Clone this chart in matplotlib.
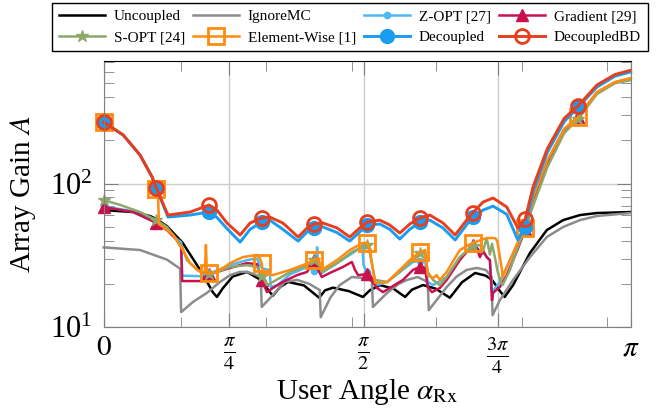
import numpy as np
import matplotlib.pyplot as plt

plt.rcParams['font.family'] = 'serif'
plt.rcParams['font.serif'] = ['Liberation Serif', 'DejaVu Serif']
plt.rcParams['mathtext.fontset'] = 'stix'

# user angle given in units of pi, array gain values
unc_x = [0, 0.056, 0.088, 0.1, 0.120, 0.150, 0.183, 0.200, 0.207, 0.215, 0.226, 0.245, 0.272, 0.296,
         0.321, 0.335, 0.350, 0.380, 0.409, 0.420, 0.435, 0.465, 0.492, 0.505, 0.524, 0.550, 0.572,
         0.585, 0.606, 0.630, 0.657, 0.680, 0.705, 0.725, 0.737, 0.752, 0.761, 0.777, 0.809, 0.841,
         0.872, 0.904, 0.936, 1.0]
unc_y = [65.3, 63.3, 59.4, 56.5, 50.5, 38.6, 25.0, 19.5, 17.5, 16.2, 18.6, 22.5, 24.2, 21.5,
         16.5, 19.0, 20.6, 19.5, 16.0, 18.0, 18.8, 17.8, 16.2, 18.0, 19.6, 18.5, 16.2,
         18.2, 19.6, 18.5, 16.0, 20.5, 23.8, 22.8, 21.3, 17.8, 16.2, 19.6, 32.8, 47.4,
         55.6, 60.3, 62.3, 63.3]

ign_x = [0, 0.069, 0.120, 0.145, 0.147, 0.170, 0.196, 0.220, 0.240, 0.258, 0.272, 0.286, 0.298,
         0.300, 0.325, 0.344, 0.367, 0.390, 0.410, 0.412, 0.430, 0.448, 0.471, 0.492, 0.509, 0.511,
         0.538, 0.560, 0.576, 0.596, 0.615, 0.617, 0.651, 0.670, 0.689, 0.708, 0.725, 0.736, 0.738,
         0.752, 0.777, 0.809, 0.841, 0.872, 0.904, 0.936, 1.0]
ign_y = [35.9, 34.4, 29.5, 25.5, 12.7, 15.0, 17.3, 20.5, 23.0, 24.2, 24.2, 23.3, 22.3,
         13.8, 17.3, 20.6, 21.3, 20.0, 18.1, 11.7, 16.0, 19.6, 22.3, 22.0, 21.0, 13.8,
         17.3, 20.0, 21.3, 22.3, 20.6, 13.1, 19.0, 22.5, 25.0, 25.8, 25.0, 22.5, 12.1,
         15.4, 21.3, 30.7, 42.4, 49.8, 55.6, 59.4, 62.3]

zopt_x = [0, 0.05, 0.1, 0.120, 0.139, 0.147, 0.149, 0.183, 0.2, 0.215, 0.240, 0.272, 0.291, 0.296,
          0.302, 0.315, 0.317, 0.330, 0.354, 0.386, 0.4, 0.404, 0.405, 0.407, 0.414, 0.443, 0.467,
          0.486, 0.491, 0.493, 0.5, 0.505, 0.519, 0.538, 0.562, 0.587, 0.6, 0.610, 0.615, 0.625,
          0.651, 0.676, 0.7, 0.720, 0.733, 0.737, 0.752, 0.771, 0.786, 0.8, 0.815, 0.842, 0.874,
          0.9, 0.936, 0.97, 1.0]
zopt_y = [69.5, 64.5, 54.0, 48.0, 41.0, 39.0, 22.8, 22.6, 23.6, 24.8, 27.0, 29.3, 30.0, 27.0,
          25.5, 25.0, 19.0, 19.6, 23.3, 26.2, 24.5, 26.0, 36.0, 26.0, 23.8, 27.9, 31.8,
          35.5, 37.0, 27.0, 24.0, 22.3, 19.6, 20.6, 24.2, 28.4, 29.0, 29.3, 20.6, 19.6,
          22.3, 30.7, 36.6, 33.0, 29.0, 17.5, 20.6, 29.3, 38.0, 47.4, 78, 145, 240,
          290, 430, 505, 540]

grad_x = [0, 0.056, 0.1, 0.120, 0.139, 0.147, 0.149, 0.183, 0.2, 0.215, 0.240, 0.272, 0.291, 0.296,
          0.3, 0.310, 0.321, 0.340, 0.367, 0.386, 0.4, 0.407, 0.414, 0.429, 0.454, 0.471, 0.477,
          0.483, 0.5, 0.505, 0.519, 0.530, 0.543, 0.568, 0.587, 0.6, 0.610, 0.615, 0.623, 0.638,
          0.651, 0.676, 0.7, 0.708, 0.714, 0.720, 0.727, 0.733, 0.737, 0.739, 0.752, 0.765, 0.786,
          0.8, 0.815, 0.842, 0.874, 0.9, 0.936, 0.97, 1.0]
grad_y = [68.6, 63.3, 53.1, 47.4, 40.4, 36.0, 20.9, 20.9, 23.4, 24.2, 25.8, 27.9, 27.4, 24.0,
          21.3, 17.5, 18.7, 20.6, 23.0, 24.2, 29.3, 25.0, 22.3, 23.8, 26.2, 28.4, 25.0,
          23.0, 23.4, 21.9, 18.7, 17.5, 18.7, 21.3, 25.0, 26.2, 25.8, 19.0, 17.5, 18.7,
          21.3, 29.3, 37.3, 35.5, 30.7, 34.0, 30.7, 29.3, 15.4, 17.3, 19.0, 23.0, 35.0,
          48.0, 78, 140, 235, 290, 430, 505, 540]

sopt_x = [0, 0.031, 0.069, 0.1, 0.120, 0.139, 0.150, 0.158, 0.177, 0.2, 0.215, 0.240, 0.272, 0.291,
          0.3, 0.310, 0.321, 0.354, 0.386, 0.4, 0.407, 0.414, 0.443, 0.471, 0.492, 0.5, 0.505,
          0.515, 0.538, 0.562, 0.587, 0.6, 0.610, 0.615, 0.625, 0.638, 0.651, 0.676, 0.7, 0.714,
          0.720, 0.727, 0.733, 0.737, 0.743, 0.747, 0.752, 0.757, 0.771, 0.786, 0.8, 0.815, 0.842,
          0.874, 0.9, 0.936, 0.97, 1.0]
sopt_y = [76.7, 71.0, 63.3, 55.6, 49.8, 40.4, 35.5, 29.3, 25.0, 23.4, 24.2, 26.2, 27.0, 26.2,
          22.8, 19.6, 20.6, 24.2, 27.0, 29.3, 28.4, 24.2, 27.9, 33.3, 36.1, 37.2, 33.0,
          21.3, 20.6, 24.2, 29.3, 32.8, 33.0, 24.2, 21.3, 19.6, 22.3, 30.7, 36.6, 37.3,
          34.0, 41.7, 32.0, 38.0, 30.0, 25.0, 21.3, 19.6, 25.0, 36.0, 49.0, 70, 130,
          225, 280, 420, 500, 526]

ew_x = [0, 0.037, 0.069, 0.092, 0.1, 0.103, 0.105, 0.113, 0.132, 0.150, 0.164, 0.183, 0.192, 0.194,
        0.196, 0.2, 0.215, 0.240, 0.264, 0.291, 0.296, 0.3, 0.302, 0.321, 0.354, 0.378, 0.4, 0.407,
        0.414, 0.443, 0.467, 0.492, 0.5, 0.505, 0.515, 0.538, 0.562, 0.581, 0.6, 0.610, 0.615,
        0.625, 0.632, 0.638, 0.651, 0.676, 0.7, 0.727, 0.743, 0.747, 0.756, 0.757, 0.771, 0.786,
        0.8, 0.815, 0.842, 0.874, 0.9, 0.936, 0.97, 1.0]
ew_y = [268, 218, 158, 111, 91, 85, 52, 49.8, 43.8, 34.4, 27.9, 24.2, 23.8, 37.3,
        23.8, 23.8, 24.2, 27.9, 30.7, 31.8, 30.3, 27.9, 23.8, 23.0, 25.0, 27.0, 29.3, 30.3,
        25.0, 29.3, 34.4, 38.5, 38.5, 35.0, 20.3, 20.6, 25.0, 29.3, 33.3, 34.4, 23.0,
        21.9, 23.0, 21.3, 24.2, 34.4, 38.5, 41.7, 41.7, 39.7, 25.0, 22.2, 29.3, 39.1,
        49.0, 80.5, 145, 240, 290, 434, 510, 543]

dec_x = [0, 0.037, 0.069, 0.092, 0.1, 0.122, 0.164, 0.2, 0.215, 0.234, 0.259, 0.278, 0.3, 0.315,
         0.340, 0.369, 0.386, 0.4, 0.416, 0.443, 0.467, 0.486, 0.5, 0.524, 0.543, 0.562, 0.581,
         0.6, 0.619, 0.644, 0.667, 0.686, 0.7, 0.720, 0.739, 0.765, 0.786, 0.8, 0.815, 0.842,
         0.874, 0.9, 0.936, 0.97, 1.0]
dec_y = [268, 218, 158, 111, 93, 58.4, 60.3, 63.3, 58.0, 48.5, 39.1, 48.0, 53.9, 55.6,
         48.0, 39.7, 46.0, 49.0, 49.8, 45.5, 39.7, 46.0, 51.4, 52.2, 48.0, 41.0, 48.0,
         53.9, 55.6, 49.0, 40.4, 50.0, 58.4, 65.3, 69.6, 61.0, 40.4, 49.8, 88, 165,
         270, 340, 470, 560, 600]

bd_x = dec_x
bd_y = [268, 218, 158, 111, 93, 60.3, 63.3, 70.8, 65.3, 53.1, 43.8, 53.1, 57.5, 58.4,
        53.1, 42.4, 49.0, 52.2, 53.1, 49.0, 42.4, 49.0, 53.9, 55.6, 51.4, 45.2, 52.2,
        57.5, 60.3, 53.1, 43.8, 53.9, 62.3, 74.3, 79.3, 68.6, 49.0, 56.6, 95, 175,
        285, 347, 486, 575, 616]

marker_pos = [0.0, 0.1, 0.2, 0.3, 0.4, 0.5, 0.6, 0.7, 0.8, 0.9]

xtick_pos = [0, 0.75, 1.55, 2.35, np.pi]
xtick_lab = ['$0$', r'$\frac{\pi}{4}$', r'$\frac{\pi}{2}$', r'$\frac{3\pi}{4}$', r'$\pi$']
xtick_extra = [0.4586, 0.969, 1.479, 1.980, 2.494, 3.0]

series = [
    ('Uncoupled', unc_x, unc_y, dict(color='black')),
    ('IgnoreMC', ign_x, ign_y, dict(color='#8c8c8c')),
    ('Z-OPT [27]', zopt_x, zopt_y, dict(color='#4db8f2', marker='o', ms=4.5)),
    ('Gradient [29]', grad_x, grad_y, dict(color='#c8124f', marker='^', ms=8)),
    ('S-OPT [24]', sopt_x, sopt_y, dict(color='#8da86c', marker='*', ms=9)),
    ('Element-Wise [1]', ew_x, ew_y, dict(color='#ff8c0f', marker='s', ms=11, mfc='none', mew=2)),
    ('Decoupled', dec_x, dec_y, dict(color='#1a9cf0', marker='o', ms=10, lw=2.1)),
    ('DecoupledBD', bd_x, bd_y, dict(color='#e63e1e', marker='o', ms=10, mfc='none', mew=2, lw=2.1)),
]


def marks(xs):
    return [i for i, v in enumerate(xs) if any(abs(v - m) < 1e-9 for m in marker_pos)]


fig = plt.figure(figsize=(6.57, 4.18), dpi=100)
ax = fig.add_axes([0.1578, 0.2177, 0.8020, 0.6364])

for name, xs, ys, style in series:
    kw = dict(style)
    kw.setdefault('lw', 1.8)
    if 'marker' in kw:
        kw['markevery'] = marks(xs)
    ax.plot(np.array(xs) * np.pi, ys, label=name, clip_on=False, **kw)

ax.set_yscale('log')
ax.set_xlim(0, np.pi)
ax.set_ylim(10, 715)
ax.set_xticks(xtick_pos)
ax.set_xticklabels(xtick_lab)
ax.set_xticks(xtick_extra, minor=True)
ax.grid(True, which='major', color='#cccccc', lw=1)
ax.tick_params(which='both', direction='in', top=True, right=True, color='#808080')
ax.tick_params(which='major', length=10)
ax.tick_params(which='minor', length=7)
ax.tick_params(axis='x', labelsize=21, pad=6)
ax.tick_params(axis='y', labelsize=22, pad=8)
for side in ['left', 'right', 'bottom']:
    ax.spines[side].set_color('#808080')
ax.spines['top'].set_color('black')

ax.set_xlabel(r'User Angle $\alpha_{\mathrm{Rx}}$', fontsize=21, labelpad=1)
ax.set_ylabel('Array Gain $A$', fontsize=21, labelpad=9)

h, l = ax.get_legend_handles_labels()
order = [0, 4, 1, 5, 2, 6, 3, 7]
leg = fig.legend([h[i] for i in order], [l[i] for i in order], ncol=4, loc='upper left',
                 bbox_to_anchor=(0.079, 0.87, 0.907, 0.123), mode='expand', borderaxespad=0,
                 fontsize=11, handlelength=3, handletextpad=0.6, labelspacing=0.45,
                 borderpad=0.45, fancybox=False, edgecolor='black', framealpha=1)
leg.get_frame().set_linewidth(1)

fig.savefig('out.png', dpi=100)
